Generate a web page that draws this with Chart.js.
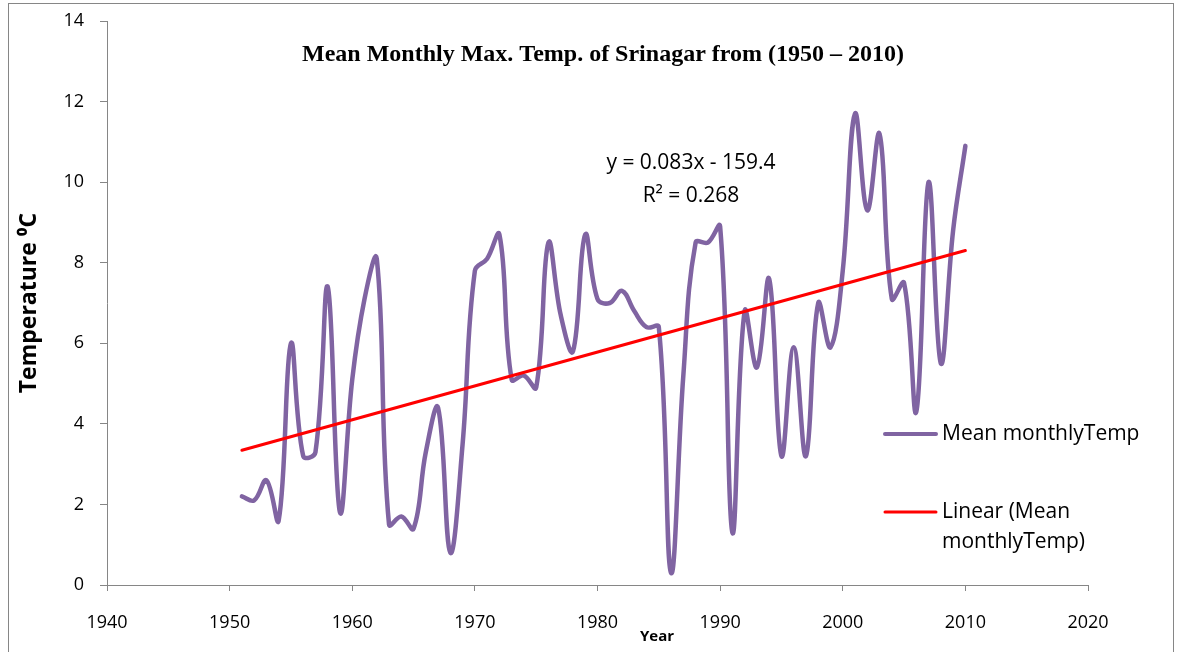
<!DOCTYPE html>
<html>
<head>
<meta charset="utf-8">
<script src="https://cdn.jsdelivr.net/npm/chart.js@4.4.1/dist/chart.umd.min.js"></script>
<style>
  html, body { margin: 0; padding: 0; background: #fff; }
  #wrap { position: relative; width: 1182px; height: 652px; overflow: hidden; }
  #frame { position: absolute; left: 8px; top: 3px; width: 1166px; height: 700px;
           border: 1px solid #868686; box-sizing: border-box; pointer-events: none; }
</style>
</head>
<body>
<div id="wrap">
  <canvas id="chart" width="1182" height="652"></canvas>
  <div id="frame"></div>
</div>
<script>
// --- data ---
const years = [
  1951, 1952, 1953, 1954, 1955, 1956, 1957, 1958, 1959, 1960,
  1961, 1962, 1963, 1964, 1965, 1966, 1967, 1968, 1969, 1970,
  1971, 1972, 1973, 1974, 1975, 1976, 1977, 1978, 1979, 1980,
  1981, 1982, 1983, 1984, 1985, 1986, 1987, 1988, 1989, 1990,
  1991, 1992, 1993, 1994, 1995, 1996, 1997, 1998, 1999, 2000,
  2001, 2002, 2003, 2004, 2005, 2006, 2007, 2008, 2009, 2010
];
const meanTemp = [
  2.2, 2.1, 2.6, 1.6, 6.0, 3.2, 3.3, 7.4, 1.8, 5.1,
  7.1, 8.1, 1.5, 1.7, 1.4, 3.3, 4.4, 0.8, 3.5, 7.8,
  8.1, 8.7, 5.1, 5.2, 4.9, 8.5, 6.7, 5.8, 8.7, 7.1,
  7.0, 7.3, 6.8, 6.4, 6.4, 0.3, 5.2, 8.5, 8.5, 8.9,
  1.3, 6.8, 5.4, 7.6, 3.2, 5.9, 3.2, 7.0, 5.9, 7.8,
  11.7, 9.3, 11.2, 7.1, 7.5, 4.3, 10.0, 5.5, 8.8, 10.9
];
const xTicks = [1940, 1950, 1960, 1970, 1980, 1990, 2000, 2010, 2020];
const yTicks = [0, 2, 4, 6, 8, 10, 12, 14];

const seriesName = 'Mean monthlyTemp';
const trendName = ['Linear (Mean', 'monthlyTemp)'];
const chartTitle = 'Mean Monthly Max. Temp. of Srinagar from (1950 \u2013 2010)';
const equationText = ['y = 0.083x - 159.4', 'R\u00b2 = 0.268'];

const PURPLE = '#8064A2';
const RED = '#FF0000';
const AXIS = '#868686';
const SANS = '"Open Sans", Lato, sans-serif';

// least-squares trendline from the series
function linearFit(xs, ys) {
  const n = xs.length;
  const mx = xs.reduce((a, b) => a + b, 0) / n;
  const my = ys.reduce((a, b) => a + b, 0) / n;
  let sxy = 0, sxx = 0;
  for (let i = 0; i < n; i++) {
    sxy += (xs[i] - mx) * (ys[i] - my);
    sxx += (xs[i] - mx) * (xs[i] - mx);
  }
  const slope = sxy / sxx;
  return x => my + slope * (x - mx);
}
const fit = linearFit(years, meanTemp);
const first = years[0], last = years[years.length - 1];

// title, equation, legend and the "Year" caption are drawn on the canvas
const annotations = {
  id: 'annotations',
  afterDraw(chart) {
    const { ctx } = chart;
    ctx.save();
    ctx.fillStyle = '#000';
    ctx.textBaseline = 'middle';

    ctx.textAlign = 'center';
    ctx.font = 'bold 24px "Liberation Serif", "Times New Roman", serif';
    ctx.fillText(chartTitle, 603, 55);

    ctx.font = '21px ' + SANS;
    ctx.fillText(equationText[0], 691, 163);
    ctx.fillText(equationText[1], 691, 196);

    ctx.font = 'bold 15px ' + SANS;
    ctx.fillText('Year', 657, 637);

    // legend
    ctx.textAlign = 'left';
    ctx.font = '21px ' + SANS;
    ctx.lineCap = 'round';
    ctx.strokeStyle = PURPLE;
    ctx.lineWidth = 4;
    ctx.beginPath(); ctx.moveTo(885, 434); ctx.lineTo(936, 434); ctx.stroke();
    ctx.fillText(seriesName, 942, 434);

    ctx.strokeStyle = RED;
    ctx.lineWidth = 3;
    ctx.beginPath(); ctx.moveTo(885, 512); ctx.lineTo(936, 512); ctx.stroke();
    ctx.fillText(trendName[0], 942, 512);
    ctx.fillText(trendName[1], 942, 542);
    ctx.restore();
  }
};

new Chart(document.getElementById('chart').getContext('2d'), {
  type: 'line',
  data: {
    datasets: [
      {
        label: seriesName,
        data: years.map((y, i) => ({ x: y, y: meanTemp[i] })),
        borderColor: PURPLE,
        borderWidth: 4.5,
        pointRadius: 0,
        tension: 0.4,
        borderCapStyle: 'round',
        order: 2
      },
      {
        label: trendName.join(' '),
        data: [{ x: first, y: fit(first) }, { x: last, y: fit(last) }],
        borderColor: RED,
        borderWidth: 3,
        pointRadius: 0,
        tension: 0,
        borderCapStyle: 'round',
        order: 1
      }
    ]
  },
  options: {
    responsive: false,
    animation: false,
    layout: { padding: { left: 0, top: 21, right: 94, bottom: 0 } },
    plugins: {
      legend: { display: false },
      tooltip: { enabled: false },
      title: { display: false }
    },
    scales: {
      x: {
        type: 'linear',
        min: xTicks[0],
        max: xTicks[xTicks.length - 1],
        afterBuildTicks: s => { s.ticks = xTicks.map(v => ({ value: v })); },
        afterFit: s => { s.height = 67; s.paddingLeft = 0; s.paddingRight = 0; },
        border: { color: AXIS, width: 1 },
        grid: { drawOnChartArea: false, drawTicks: true, tickLength: 6, color: AXIS },
        ticks: {
          color: '#000', font: { family: SANS, size: 18 }, padding: 21, maxRotation: 0,
          callback: v => String(v)
        }
      },
      y: {
        min: yTicks[0],
        max: yTicks[yTicks.length - 1],
        afterBuildTicks: s => { s.ticks = yTicks.map(v => ({ value: v })); },
        afterFit: s => { s.width = 107; s.paddingTop = 0; s.paddingBottom = 0; },
        border: { color: AXIS, width: 1 },
        grid: { drawOnChartArea: false, drawTicks: true, tickLength: 7, color: AXIS },
        ticks: { color: '#000', font: { family: SANS, size: 18 }, padding: 16 },
        title: {
          display: true,
          text: 'Temperature \u2070C',
          color: '#000',
          font: { family: SANS, size: 23, weight: 'bold' },
          padding: { top: 16, bottom: 0 }
        }
      }
    }
  },
  plugins: [annotations]
});
</script>
</body>
</html>
